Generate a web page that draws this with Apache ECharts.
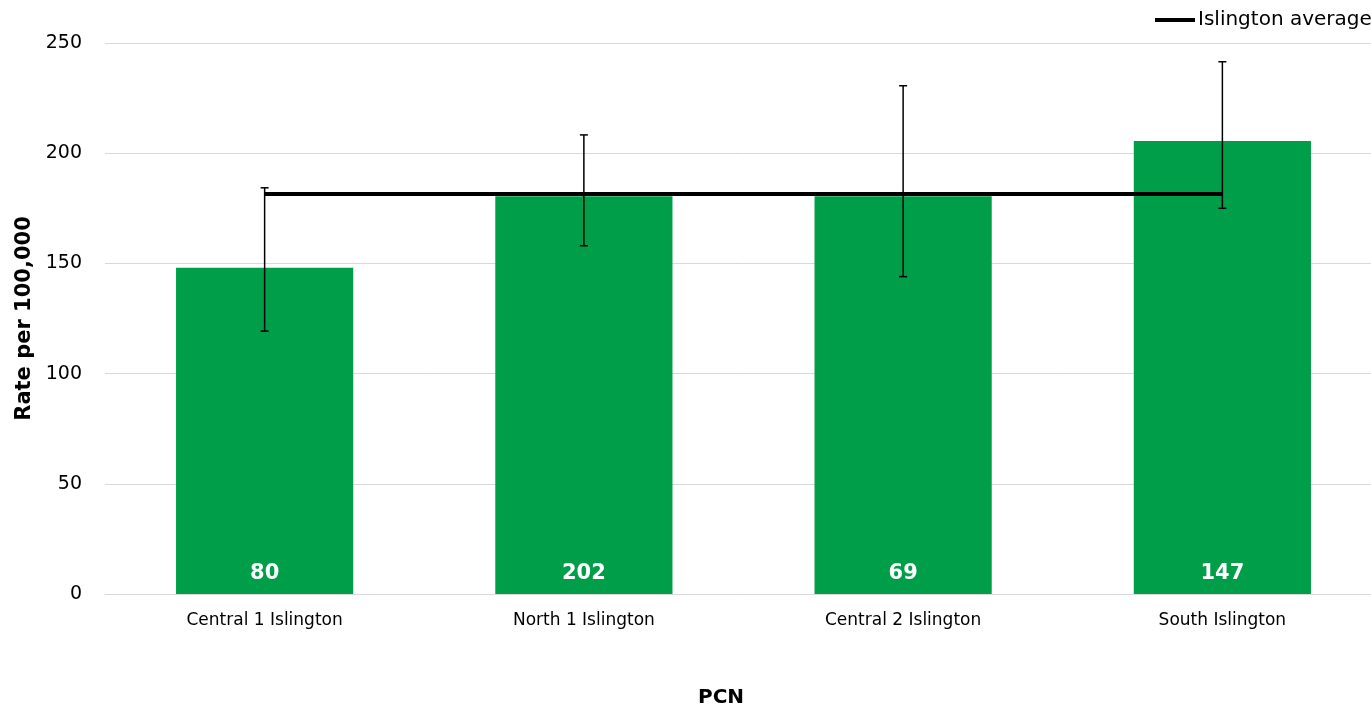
<!DOCTYPE html>
<html>
<head>
<meta charset="utf-8">
<script src="https://cdn.jsdelivr.net/npm/echarts@6/dist/echarts.min.js"></script>
<style>html,body{margin:0;padding:0;background:#fff;overflow:hidden;width:1371px;height:710px}#c{width:1382px;height:710px}</style>
</head>
<body>
<div id="c"></div>
<script>
const categories = ['Central 1 Islington', 'North 1 Islington', 'Central 2 Islington', 'South Islington'];
const rates = [148, 180.5, 180.5, 205.5];
const counts = [80, 202, 69, 147];
const lowerCI = [119.3, 158, 144, 175];
const upperCI = [184.3, 208.3, 230.6, 241.5];
const islingtonAverage = [181.5, 181.5, 181.5, 181.5];
const yTicks = [0, 50, 100, 150, 200, 250];

const FONT = 'DejaVu Sans';
const chart = echarts.init(document.getElementById('c'), null, {renderer: 'canvas'});

const errData = categories.map((c, i) => [i, lowerCI[i], upperCI[i]]);

chart.setOption({
  animation: false,
  textStyle: {fontFamily: FONT},
  grid: {left: 105, right: 0, top: 43, bottom: 116, containLabel: false},
  legend: {
    data: [{name: 'Islington average', icon: 'rect'}],
    left: 1155, top: 10, padding: 0,
    itemWidth: 40, itemHeight: 4, itemGap: 4,
    textStyle: {fontFamily: FONT, fontSize: 20, color: '#000', padding: [0,0,0,-2]}
  },
  graphic: [{
    type: 'text', left: 698, top: 688,
    style: {text: 'PCN', fontFamily: FONT, fontSize: 20, fontWeight: 'bold', fill: '#000', align: 'center'}
  }],
  xAxis: {
    type: 'category',
    data: categories,
    axisLine: {lineStyle: {color: '#d9d9d9', width: 1}},
    axisTick: {show: false},
    axisLabel: {fontFamily: FONT, fontSize: 17, color: '#000', margin: 18}
  },
  yAxis: {
    type: 'value',
    min: 0, max: 250, interval: 50,
    name: 'Rate per 100,000',
    nameLocation: 'middle',
    nameGap: 64,
    nameTextStyle: {fontFamily: FONT, fontSize: 21, fontWeight: 'bold', color: '#000'},
    axisLine: {show: false},
    axisTick: {show: false},
    axisLabel: {fontFamily: FONT, fontSize: 19, color: '#000', margin: 23,
      formatter: v => yTicks.includes(v) ? String(v) : ''},
    splitLine: {lineStyle: {color: '#d9d9d9', width: 1}}
  },
  series: [
    {
      name: 'Rate',
      type: 'bar',
      data: rates,
      barWidth: '55.5%',
      itemStyle: {color: '#009e49'},
      label: {
        show: true,
        position: 'insideBottom',
        distance: 10,
        formatter: p => String(counts[p.dataIndex]),
        color: '#fff', fontFamily: FONT, fontSize: 21, fontWeight: 'bold'
      },
      z: 2
    },
    {
      name: 'Islington average',
      type: 'line',
      data: islingtonAverage,
      symbol: 'none',
      lineStyle: {color: '#000', width: 4},
      itemStyle: {color: '#000'},
      z: 3
    },
    {
      name: 'CI',
      type: 'custom',
      data: errData,
      z: 4,
      renderItem: function (params, api) {
        const x = api.value(0);
        const lo = api.coord([x, api.value(1)]);
        const hi = api.coord([x, api.value(2)]);
        const cap = 4;
        const style = {stroke: '#000', lineWidth: 1.5, fill: null};
        return {
          type: 'group',
          children: [
            {type: 'line', shape: {x1: hi[0], y1: hi[1], x2: lo[0], y2: lo[1]}, style},
            {type: 'line', shape: {x1: hi[0]-cap, y1: hi[1], x2: hi[0]+cap, y2: hi[1]}, style},
            {type: 'line', shape: {x1: lo[0]-cap, y1: lo[1], x2: lo[0]+cap, y2: lo[1]}, style}
          ]
        };
      }
    }
  ]
});
</script>
</body>
</html>
